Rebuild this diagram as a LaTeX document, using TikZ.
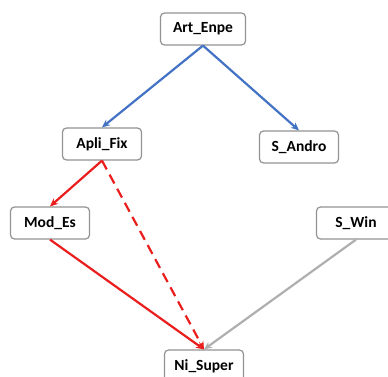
\documentclass[tikz,border=0pt]{standalone}
\usepackage{fontspec}
\setmainfont{Carlito}
\usetikzlibrary{arrows.meta}

\definecolor{linkblue}{RGB}{68,114,196}
\definecolor{linkred}{RGB}{235,30,30}
\definecolor{linkgray}{RGB}{175,175,175}
\tikzset{
	modbox/.style={draw=gray!85, line width=1.2pt, rounded corners=4pt, fill=white, minimum width=79pt, minimum height=32pt, inner sep=2pt, font=\fontsize{15.5}{17}\selectfont\bfseries},
	link/.style={line width=2.2pt, -{Stealth[length=8pt,width=7pt]}}
}

\begin{document}
\begin{tikzpicture}[x=1pt,y=-1pt]
			\clip (0,0) rectangle (388,377);
			\fill[white] (0,0) rectangle (388,377);
			\node[modbox, minimum width=85pt] (artenpe) at (203,29) {Art\_Enpe};
			\node[modbox] (aplifix) at (102,144) {Apli\_Fix};
			\node[modbox] (sandro) at (299,147) {S\_Andro};
			\node[modbox] (modes) at (50,223) {Mod\_Es};
			\node[modbox] (swin) at (356,223) {S\_Win};
			\node[modbox] (nisuper) at (204,366) {Ni\_Super};
			\draw[link, linkblue] (artenpe.south) -- (aplifix.north);
			\draw[link, linkblue] (artenpe.south) -- (sandro.north);
			\draw[link, linkred] (aplifix.south) -- (modes.north);
			\draw[link, linkred, dash pattern=on 10pt off 6pt] (aplifix.south) -- (nisuper.north);
			\draw[link, linkred] (modes.south) -- (nisuper.north);
			\draw[link, linkgray] (swin.south) -- (nisuper.north);
		\end{tikzpicture}
\end{document}
